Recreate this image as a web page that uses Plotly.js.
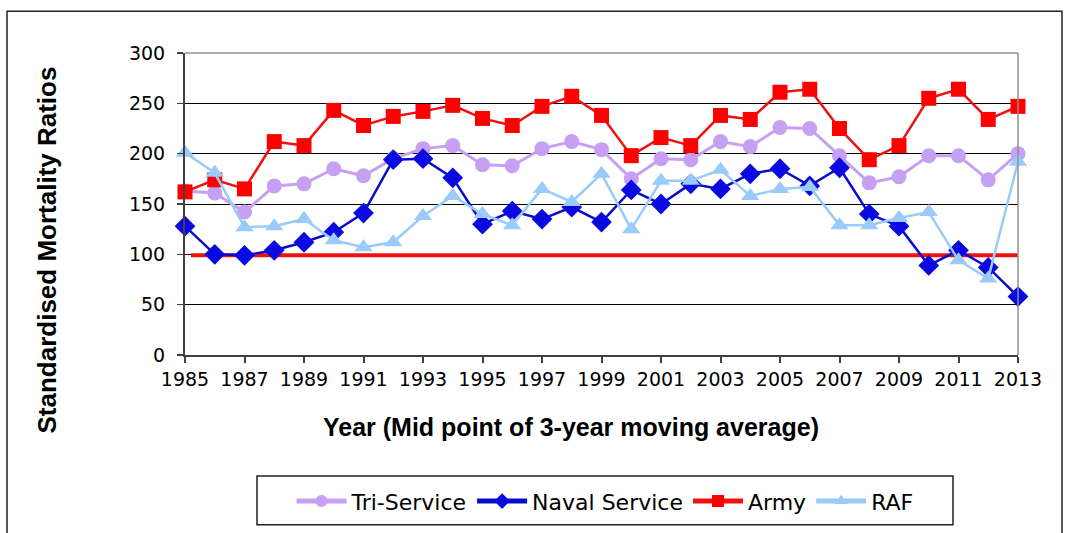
<!DOCTYPE html>
<html>
<head>
<meta charset="utf-8">
<script src="https://cdn.plot.ly/plotly-3.0.1.min.js"></script>
<style>
html,body{margin:0;padding:0;background:#fff;}
#chart{width:1065px;height:533px;}
</style>
</head>
<body>
<div id="chart"></div>
<script>
var years = [1985,1986,1987,1988,1989,1990,1991,1992,1993,1994,1995,1996,1997,1998,1999,2000,2001,2002,2003,2004,2005,2006,2007,2008,2009,2010,2011,2012,2013];
var triService = [163,161,142,168,170,185,178,195,205,208,189,188,205,212,204,175,195,194,212,207,226,225,198,171,177,198,198,174,200];
var navalService = [128,100,99,104,112,122,141,194,195,176,130,143,135,147,132,164,150,170,165,180,185,168,186,140,128,89,104,87,58];
var army = [162,174,165,212,208,243,228,237,242,248,235,228,247,257,238,198,216,208,238,234,261,264,225,194,208,255,264,234,247];
var raf = [201,181,127,128,135,114,107,112,138,158,140,129,165,152,180,125,173,173,184,158,165,167,129,129,136,142,94,76,192];
var refLineX = [1985.2, 2013];
var refLineY = [99, 99];
var xTickVals = [1985,1987,1989,1991,1993,1995,1997,1999,2001,2003,2005,2007,2009,2011,2013];
var yTickVals = [0,50,100,150,200,250,300];

var FONT = "Liberation Sans, Arial, sans-serif";
var TICKFONT = "DejaVu Sans, Liberation Sans, sans-serif";

function px2x(p){ return (p-185)/833; }
function px2y(p){ return (356.5-p)/303.5; }

var traces = [
  {x: refLineX, y: refLineY, mode: 'lines', line: {color: '#EE1111', width: 4}, showlegend: false, hoverinfo: 'skip', cliponaxis: false},
  {x: years, y: triService, name: 'Tri-Service', mode: 'lines+markers', cliponaxis: false,
   line: {color: '#C6A0F2', width: 3}, marker: {symbol: 'circle', size: 15, color: '#C6A0F2'}},
  {x: years, y: navalService, name: 'Naval Service', mode: 'lines+markers', cliponaxis: false,
   line: {color: '#0A0ACC', width: 2.5}, marker: {symbol: 'diamond', size: 16, color: '#0A0AE0'}},
  {x: years, y: army, name: 'Army', mode: 'lines+markers', cliponaxis: false,
   line: {color: '#F01010', width: 2.5}, marker: {symbol: 'square', size: 15, color: '#FF0000'}},
  {x: years, y: raf, name: 'RAF', mode: 'lines+markers', cliponaxis: false,
   line: {color: '#9ACBFA', width: 2.5}, marker: {symbol: 'triangle-up', size: 16, color: '#9ACBFA'}}
];

var layout = {
  width: 1065, height: 533,
  margin: {l: 185, r: 47, t: 53, b: 176.5},
  paper_bgcolor: '#fff', plot_bgcolor: '#fff',
  font: {family: FONT, color: '#000', size: 19},
  showlegend: true,
  legend: {
    orientation: 'h', x: px2x(605), xanchor: 'center', y: px2y(481), yanchor: 'top',
    borderwidth: 0, bgcolor: 'rgba(0,0,0,0)',
    font: {family: TICKFONT, size: 22, color: '#000'},
    itemsizing: 'constant', itemwidth: 50, traceorder: 'normal'
  },
  xaxis: {
    range: [1985, 2013], tickvals: xTickVals, ticktext: xTickVals.map(String),
    showgrid: false, zeroline: false,
    showline: true, linecolor: '#404040', linewidth: 2, mirror: false,
    ticks: 'outside', ticklen: 6, tickwidth: 2, tickcolor: '#404040',
    tickfont: {family: TICKFONT, size: 19, color: '#000'}
  },
  yaxis: {
    range: [0, 300], tickvals: yTickVals,
    showgrid: true, gridcolor: '#000', gridwidth: 1, zeroline: false,
    showline: true, linecolor: '#404040', linewidth: 2,
    ticks: 'outside', ticklen: 6, tickwidth: 1.5, tickcolor: '#404040',
    ticklabelstandoff: 8,
    tickfont: {family: TICKFONT, size: 19, color: '#000'}
  },
  shapes: [
    {type: 'line', xref: 'paper', yref: 'paper', x0: 0, x1: 1, y0: 1, y1: 1, line: {color: '#909090', width: 1.5}},
    {type: 'line', xref: 'paper', yref: 'paper', x0: 1, x1: 1, y0: 0, y1: 1, line: {color: '#909090', width: 1.5}},
    {type: 'rect', xref: 'paper', yref: 'paper',
     x0: px2x(7), x1: px2x(1062), y0: px2y(545), y1: px2y(11),
     line: {color: '#222', width: 1.5}, fillcolor: 'rgba(0,0,0,0)', layer: 'below'},
    {type: 'rect', xref: 'paper', yref: 'paper',
     x0: px2x(257), x1: px2x(953), y0: px2y(527), y1: px2y(478),
     line: {color: '#222', width: 1.5}, fillcolor: 'rgba(0,0,0,0)', layer: 'below'}
  ],
  annotations: [
    {text: '<b>Standardised Mortality Ratios</b>', xref: 'paper', yref: 'paper',
     x: px2x(47), y: px2y(251.5), xanchor: 'center', yanchor: 'middle',
     textangle: -90, showarrow: false, font: {family: FONT, size: 26, color: '#000'}},
    {text: '<b>Year (Mid point of 3-year moving average)</b>', xref: 'paper', yref: 'paper',
     x: px2x(571), y: px2y(429), xanchor: 'center', yanchor: 'middle',
     showarrow: false, font: {family: FONT, size: 25, color: '#000'}}
  ]
};

Plotly.newPlot('chart', traces, layout, {displayModeBar: false, staticPlot: true});
</script>
</body>
</html>
